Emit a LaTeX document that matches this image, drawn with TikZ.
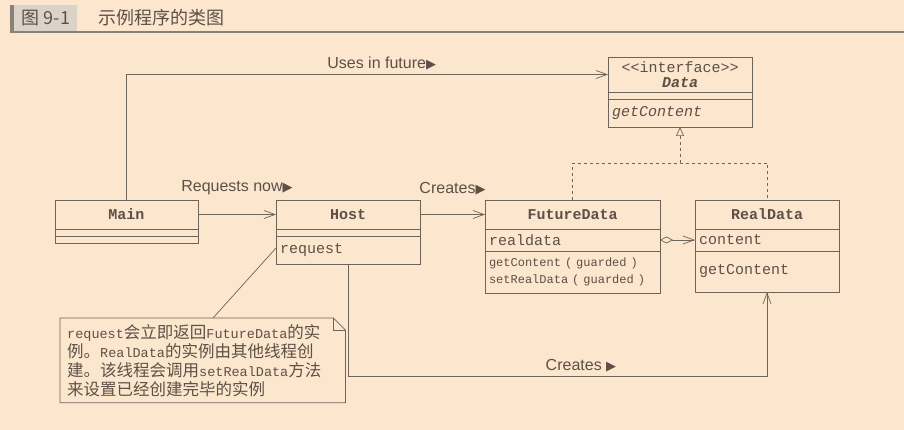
\documentclass[tikz,border=0pt]{standalone}
\usepackage{fontspec}
\setmainfont{Liberation Sans}
\setmonofont{Liberation Mono}
\newfontfamily\cjk{Noto Sans CJK SC}
\newfontfamily\symb{DejaVu Sans}
\usetikzlibrary{positioning, arrows.meta, calc}
\definecolor{paper}{HTML}{FCE6CD}
\definecolor{umlline}{HTML}{6F645C}
\definecolor{umltext}{HTML}{5E5048}
\definecolor{headgray}{HTML}{DCD3C8}
\definecolor{headbar}{HTML}{8A8078}

\newcommand{\tri}{{\symb\fontsize{13}{13}\selectfont ▶}}
\newcommand{\notecode}[1]{{\fontsize{13.5}{19}\selectfont\ttfamily #1}}

\tikzset{
  clsname/.style={draw=umlline, line width=0.7pt, minimum width=#1, minimum height=29pt,
    inner sep=0pt, outer sep=0pt, text=umltext, font=\fontsize{15}{15}\selectfont\ttfamily\bfseries},
  clspart/.style={draw=umlline, line width=0.7pt, minimum width=#1, inner sep=0pt, outer sep=0pt},
  clsline/.style={draw=umlline, line width=0.7pt, text width=#1, inner xsep=4pt,
    inner ysep=0pt, outer sep=0pt, align=left, text=umltext, font=\fontsize{15}{17}\selectfont\ttfamily},
  link/.style={draw=umlline, line width=0.7pt},
  usearrow/.style={link, -{Straight Barb[length=11pt, width=8pt]}},
  relabel/.style={font=\fontsize{16}{16}\selectfont, text=umltext, inner sep=1pt},
}

\begin{document}
\begin{tikzpicture}[x=1pt, y=-1pt]
  % paper and frame
  \fill[paper] (0,0) rectangle (904,430);
  \useasboundingbox (0,0) rectangle (904,430);

  % figure heading
  \fill[headbar] (10,5) rectangle (14,32);
  \fill[headgray] (14,5) rectangle (77,32);
  \draw[headbar, line width=1.2pt] (10,32) -- (904,32);
  \node[font=\fontsize{18}{18}\selectfont\cjk, text=umltext] (fignum) at (46,18) {图 9-1};
  \node[font=\fontsize{18}{18}\selectfont\cjk, text=umltext, anchor=west] (figtitle) at (95,18) {示例程序的类图};

  % Data interface
  \node[clsname=144pt, minimum height=35pt, align=center] (data) at (680,74.5)
    {{\mdseries <<interface>>}\\{\itshape Data}};
  \node[clspart=144pt, minimum height=7pt, below=0pt of data] (dattr) {};
  \node[clsline=136pt, minimum height=28pt, below=0pt of dattr] (dops) {\itshape getContent};

  % Main
  \node[clsname=143pt] (main) at (126.5,214.5) {Main};
  \node[clspart=143pt, minimum height=7pt, below=0pt of main] (mattr) {};
  \node[clspart=143pt, minimum height=7pt, below=0pt of mattr] (mops) {};

  % Host
  \node[clsname=144pt] (host) at (348,214.5) {Host};
  \node[clspart=144pt, minimum height=7pt, below=0pt of host] (hattr) {};
  \node[clsline=136pt, minimum height=28pt, below=0pt of hattr] (hops) {request};

  % FutureData
  \node[clsname=175pt] (fdata) at (572.5,214.5) {FutureData};
  \node[clsline=167pt, minimum height=22pt, below=0pt of fdata] (fattr) {realdata};
  \node[clsline=167pt, minimum height=42pt, below=0pt of fattr,
    font=\fontsize{12}{17.5}\selectfont\ttfamily] (fops)
    {getContent ( guarded )\\setRealData ( guarded )};

  % RealData
  \node[clsname=144pt] (rdata) at (767,214.5) {RealData};
  \node[clsline=136pt, minimum height=22pt, below=0pt of rdata] (rattr) {content};
  \node[clsline=136pt, minimum height=41pt, below=0pt of rattr] (rops) {getContent};

  % associations
  \draw[usearrow] (main.north) |- node[relabel, pos=0.765, above=3pt] {Uses in future\tri} (data.west);
  \draw[usearrow] (main.east) -- node[relabel, above=18pt] {Requests now\tri} (host.west);
  \draw[usearrow] (host.east) -- node[relabel, above=18pt] {Creates\tri} (fdata.west);
  \draw[link, {Diamond[open, length=13pt, width=7pt]}-{Straight Barb[length=11pt, width=8pt]}]
    (fattr.east) -- (rattr.west);
  \coordinate (bend) at (767,376);
  \draw[usearrow] (hops.south) |- node[relabel, pos=0.778, above=3pt] {Creates \tri} (bend) -- (rops.south);

  % realization
  \coordinate (meet) at (680,163);
  \draw[link, dash pattern=on 3pt off 3pt] (fdata.north) |- (meet) -| (rdata.north);
  \draw[link, dash pattern=on 3pt off 3pt, -{Triangle[open, length=9pt, width=8pt]}] (meet) -- (dops.south);

  % note
  \node[anchor=north west, text width=271pt, inner xsep=7pt, inner ysep=6pt, align=left,
    minimum height=82pt, text=umltext, font=\fontsize{16.5}{19}\selectfont\cjk] (note) at (60,318)
    {\notecode{request}会立即返回\notecode{FutureData}的实\\
     例。\notecode{RealData}的实例由其他线程创\\
     建。该线程会调用\notecode{setRealData}方法\\
     来设置已经创建完毕的实例};
  \draw[link] (note.north west) -- ($(note.north east)+(-12,0)$) -- ($(note.north east)+(0,12)$)
    -- (note.south east) -- (note.south west) -- cycle;
  \draw[link] ($(note.north east)+(-12,0)$) -- ($(note.north east)+(-12,12)$) -- ($(note.north east)+(0,12)$);
  \draw[link] ($(note.north west)+(153,0)$) -- ($(hops.west)+(0,-2)$);
\end{tikzpicture}
\end{document}
